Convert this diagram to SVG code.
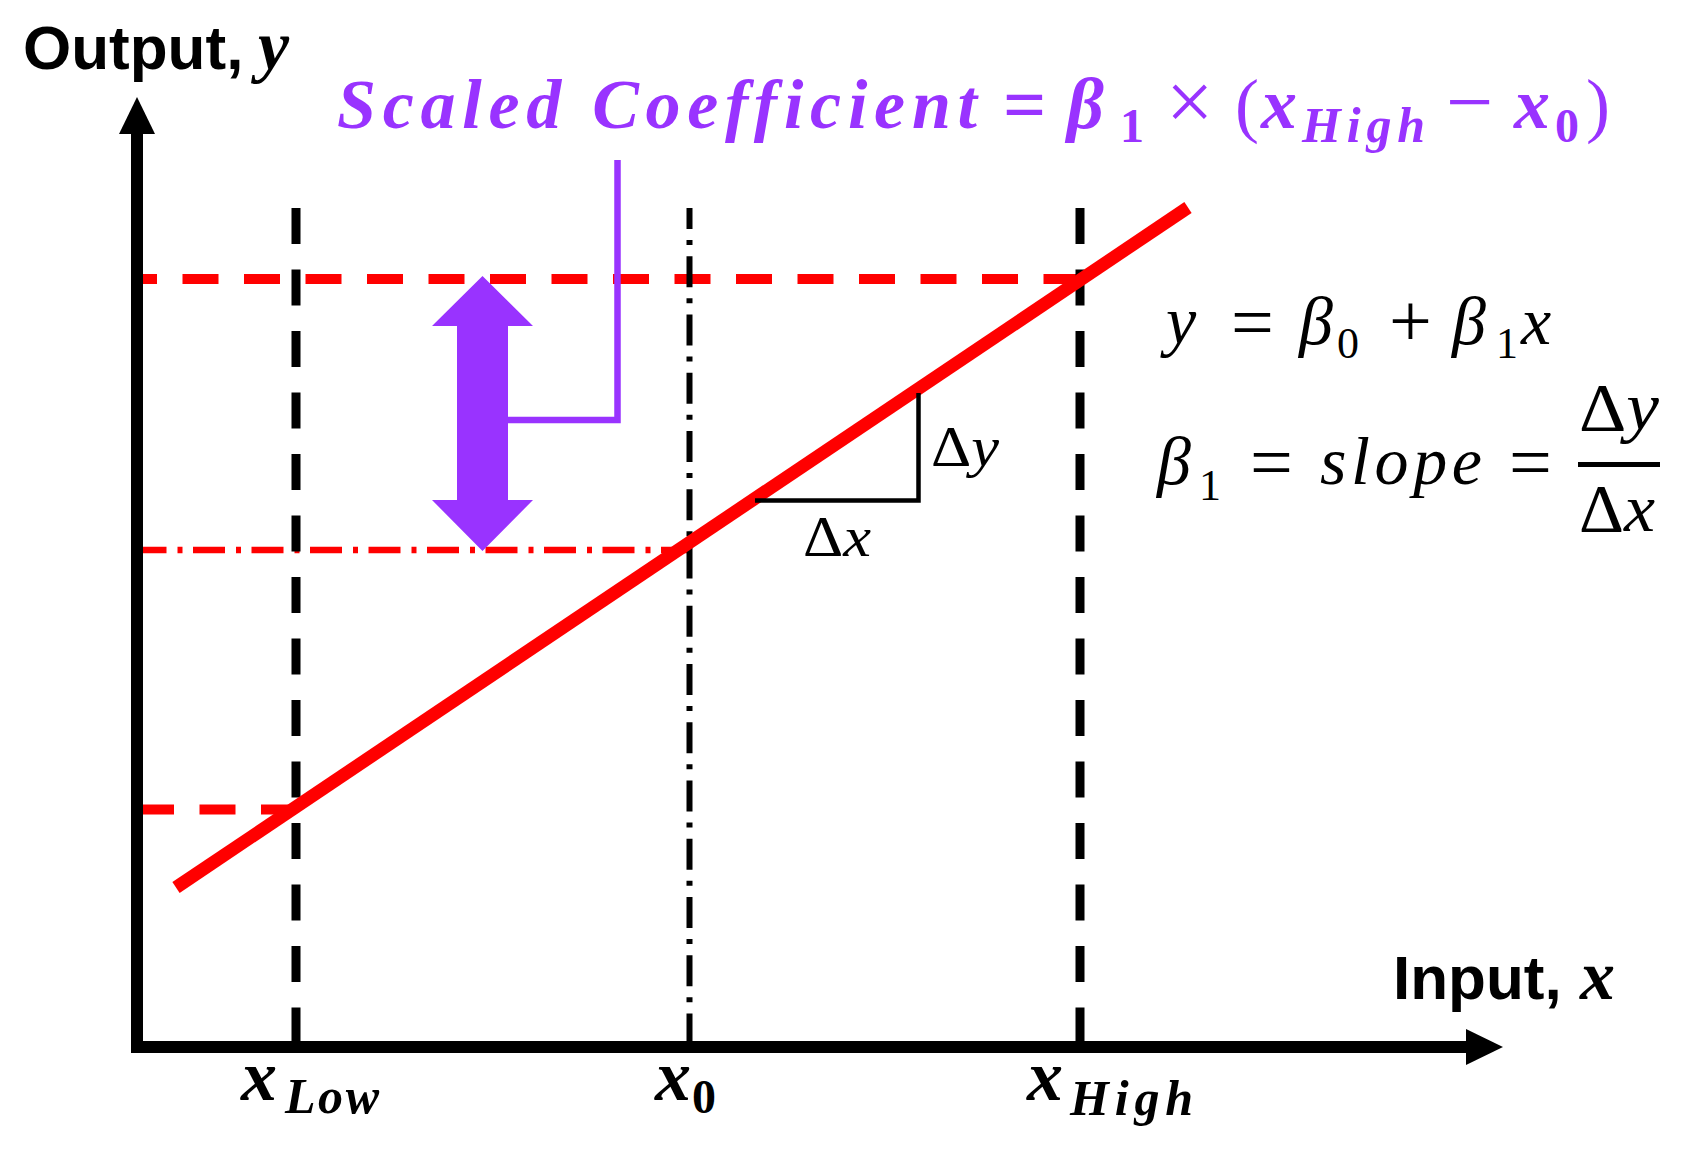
<svg xmlns="http://www.w3.org/2000/svg" width="1688" height="1150" viewBox="0 0 1688 1150">
<style>
.sans{font-family:"Liberation Sans",Arial,sans-serif;font-weight:bold;font-size:62px;fill:#000}
.m{font-family:"Liberation Serif","Times New Roman",serif;fill:#000}
.it{font-style:italic}
.b{font-weight:bold}
.pur{fill:#9933FF}
.rdash{stroke:#FF0000;stroke-width:10;fill:none;stroke-dasharray:36 25.5}
.rdd{stroke:#FF0000;stroke-width:6.5;fill:none;stroke-dasharray:32 11 5 10.5}
.kdash{stroke:#000;stroke-width:9;fill:none;stroke-dasharray:36 25.5}
.kdd{stroke:#000;stroke-width:6;fill:none;stroke-dasharray:31 11 5 11.25}
</style>
<rect width="1688" height="1150" fill="#fff"/>
<g id="guides">
<line class="rdash" x1="143" y1="279" x2="1080" y2="279" stroke-dashoffset="22"/>
<line class="rdash" x1="143" y1="809.5" x2="296" y2="809.5" stroke-dashoffset="5"/>
<line class="rdd" x1="143" y1="550" x2="689" y2="550" stroke-dashoffset="8.5"/>
<line class="kdash" x1="296" y1="208" x2="296" y2="1041"/>
<line class="kdash" x1="1080" y1="208" x2="1080" y2="1041"/>
<line class="kdd" x1="689.5" y1="208" x2="689.5" y2="1041" stroke-dashoffset="10"/>
</g>
<g id="regression-line">
<line x1="176" y1="887.5" x2="1188" y2="207.5" stroke="#FF0000" stroke-width="13"/>
</g>
<g id="slope-triangle">
<polyline points="755,500.5 918.5,500.5 918.5,393" fill="none" stroke="#000" stroke-width="4.5"/>
<text class="m" font-size="56" x="931" y="466" textLength="68" lengthAdjust="spacingAndGlyphs">Δ<tspan class="it">y</tspan></text>
<text class="m" font-size="56" x="803" y="556" textLength="68" lengthAdjust="spacingAndGlyphs">Δ<tspan class="it">x</tspan></text>
</g>
<g id="connectors">
<polygon class="pur" points="482.5,276 533,326 508,326 508,500 533,500 482.5,551 432,500 457,500 457,326 432,326"/>
<polyline points="508,420 617.5,420 617.5,160" fill="none" stroke="#9933FF" stroke-width="6.5"/>
</g>
<g id="axes">
<line x1="137" y1="130" x2="137" y2="1053" stroke="#000" stroke-width="12"/>
<line x1="131" y1="1047" x2="1470" y2="1047" stroke="#000" stroke-width="12"/>
<polygon points="137,97 155,134 119,134" fill="#000"/>
<polygon points="1503,1047 1466,1029 1466,1065" fill="#000"/>
</g>
<g id="axis-titles">
<text class="sans" x="23" y="69">Output,</text>
<text class="m it b" font-size="70" x="258" y="69">y</text>
<text class="sans" x="1393" y="999">Input,</text>
<text class="m it b" font-size="70" x="1580" y="999">x</text>
</g>
<g id="tick-labels">
<text class="m it b" font-size="72" x="241" y="1100">x</text>
<text class="m it b" font-size="50" x="285" y="1113" textLength="94" lengthAdjust="spacing">Low</text>
<text class="m it b" font-size="72" x="655" y="1100">x</text>
<text class="m b" font-size="48" x="692" y="1113">0</text>
<text class="m it b" font-size="72" x="1027" y="1100">x</text>
<text class="m it b" font-size="50" x="1070" y="1115" textLength="123" lengthAdjust="spacing">High</text>
</g>
<g id="title" class="pur">
<text class="m it b pur" font-size="70" x="337" y="128" textLength="640" lengthAdjust="spacing">Scaled Coefficient</text>
<text class="m b pur" font-size="76" x="1003" y="130">=</text>
<text class="m it b pur" font-size="72" x="1067" y="128">β</text>
<text class="m b pur" font-size="48" x="1120" y="142">1</text>
<text class="m pur" font-size="84" x="1166" y="130">×</text>
<text class="m pur" font-size="72" x="1235" y="129">(</text>
<text class="m it b pur" font-size="72" x="1261" y="128">x</text>
<text class="m it b pur" font-size="50" x="1302" y="142" textLength="123" lengthAdjust="spacing">High</text>
<text class="m pur" font-size="84" x="1446" y="130">−</text>
<text class="m it b pur" font-size="72" x="1514" y="128">x</text>
<text class="m b pur" font-size="48" x="1555" y="142">0</text>
<text class="m pur" font-size="72" x="1586" y="129">)</text>
</g>
<g id="equation-1">
<text class="m it" font-size="68" x="1166" y="344">y</text>
<text class="m" font-size="76" x="1231" y="348">=</text>
<text class="m it" font-size="68" x="1299" y="344">β</text>
<text class="m" font-size="44" x="1337" y="358">0</text>
<text class="m" font-size="76" x="1389" y="346">+</text>
<text class="m it" font-size="68" x="1452" y="344">β</text>
<text class="m" font-size="44" x="1496" y="358">1</text>
<text class="m it" font-size="68" x="1521" y="344">x</text>
</g>
<g id="equation-2">
<text class="m it" font-size="68" x="1157" y="484">β</text>
<text class="m" font-size="44" x="1199" y="500">1</text>
<text class="m" font-size="76" x="1250" y="488">=</text>
<text class="m it" font-size="68" x="1320" y="484" textLength="162" lengthAdjust="spacing">slope</text>
<text class="m" font-size="76" x="1509" y="488">=</text>
<rect x="1578" y="462" width="82" height="5" fill="#000"/>
<text class="m" font-size="68" x="1579" y="430" textLength="80" lengthAdjust="spacingAndGlyphs">Δ<tspan class="it">y</tspan></text>
<text class="m" font-size="68" x="1579" y="531" textLength="76" lengthAdjust="spacingAndGlyphs">Δ<tspan class="it">x</tspan></text>
</g>
</svg>
